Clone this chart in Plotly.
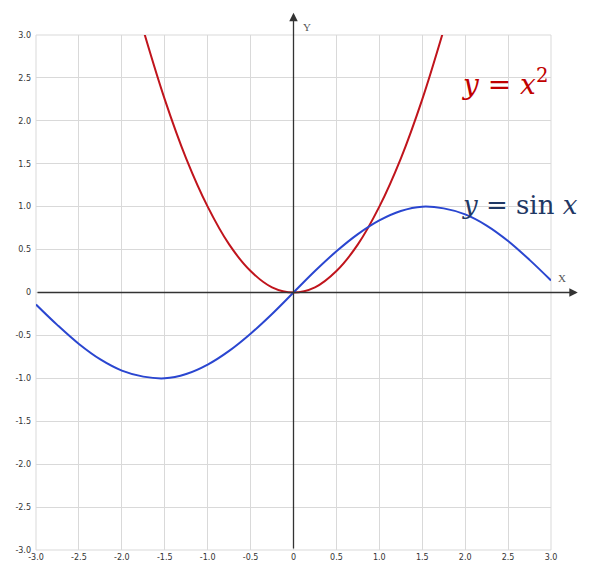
import plotly.graph_objects as go

x_sin = [-3.0, -2.75, -2.5, -2.25, -2.0, -1.75, -1.5, -1.25, -1.0, -0.75, -0.5, -0.25, 0.0,
         0.25, 0.5, 0.75, 1.0, 1.25, 1.5, 1.75, 2.0, 2.25, 2.5, 2.75, 3.0]
y_sin = [-0.14, -0.38, -0.60, -0.78, -0.91, -0.98, -1.00, -0.95, -0.84, -0.68, -0.48, -0.25, 0.0,
         0.25, 0.48, 0.68, 0.84, 0.95, 1.00, 0.98, 0.91, 0.78, 0.60, 0.38, 0.14]

x_sq = [-1.75, -1.5, -1.25, -1.0, -0.75, -0.5, -0.25, 0.0, 0.25, 0.5, 0.75, 1.0, 1.25, 1.5, 1.75]
y_sq = [3.06, 2.25, 1.56, 1.00, 0.56, 0.25, 0.06, 0.0, 0.06, 0.25, 0.56, 1.00, 1.56, 2.25, 3.06]

tick_vals = [-3.0, -2.5, -2.0, -1.5, -1.0, -0.5, 0.0, 0.5, 1.0, 1.5, 2.0, 2.5, 3.0]
tick_text = ["-3.0", "-2.5", "-2.0", "-1.5", "-1.0", "-0.5", "0", "0.5", "1.0", "1.5", "2.0", "2.5", "3.0"]

fig = go.Figure()
fig.add_trace(go.Scatter(x=x_sq, y=y_sq, mode="lines", line=dict(color="#c0141c", width=2, shape="spline"),
                         showlegend=False, hoverinfo="skip"))
fig.add_trace(go.Scatter(x=x_sin, y=y_sin, mode="lines", line=dict(color="#2a46d0", width=2, shape="spline"),
                         showlegend=False, hoverinfo="skip"))

axis_common = dict(
    range=[-3, 3], tickmode="array", tickvals=tick_vals, ticktext=tick_text,
    showgrid=True, gridcolor="#d9d9d9", gridwidth=1, zeroline=False, showline=False,
    tickfont=dict(family="DejaVu Sans", size=8, color="#333333"), ticks="", fixedrange=True,
    automargin=False,
)
fig.update_xaxes(**axis_common, ticklabelstandoff=1)
fig.update_yaxes(**axis_common, ticklabelstandoff=4)

fig.add_shape(type="rect", xref="paper", yref="paper", x0=0, y0=0, x1=1, y1=1,
              line=dict(color="#d9d9d9", width=1), layer="below")

# axis arrows
fig.add_annotation(xref="x domain", yref="y domain", x=1.052, y=0.5, axref="x domain", ayref="y domain",
                   ax=0, ay=0.5, text="", showarrow=True, arrowhead=2, arrowsize=1.3,
                   arrowwidth=1.3, arrowcolor="#333333")
fig.add_annotation(xref="x domain", yref="y domain", x=0.5, y=1.043, axref="x domain", ayref="y domain",
                   ax=0.5, ay=0, text="", showarrow=True, arrowhead=2, arrowsize=1.3,
                   arrowwidth=1.3, arrowcolor="#333333")
fig.add_annotation(xref="paper", yref="paper", x=1.033, y=0.528, text="X", showarrow=False,
                   font=dict(family="Liberation Serif", size=11, color="#555555"))
fig.add_annotation(xref="paper", yref="paper", x=0.527, y=1.032, text="Y", showarrow=False,
                   font=dict(family="Liberation Serif", size=11, color="#555555"))

# formula labels
fig.add_annotation(xref="paper", yref="paper", x=0.822, y=0.948, xanchor="left", showarrow=False,
                   text="<i>y</i> = <i>x</i><sup>2</sup>",
                   font=dict(family="DejaVu Serif", size=28, color="#c00000"))
fig.add_annotation(xref="paper", yref="paper", x=0.824, y=0.703, xanchor="left", showarrow=False,
                   text="<i>y</i> = sin <i>x</i>",
                   font=dict(family="DejaVu Serif", size=26, color="#1f3864"))

# page adds an 8px body margin, so the figure is sized to fit the window
fig.update_layout(
    width=581, height=557, margin=dict(l=28, r=38, t=27, b=15, autoexpand=False),
    plot_bgcolor="white", paper_bgcolor="white",
)
fig.write_html("out.html")
